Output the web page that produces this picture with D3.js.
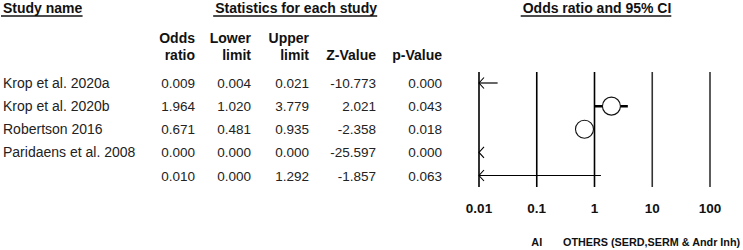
<!DOCTYPE html>
<html>
<head>
<meta charset="utf-8">
<script src="https://cdn.jsdelivr.net/npm/d3@7"></script>
<style>
  body { margin: 0; background: #fff; }
  svg { display: block; font-family: "Liberation Sans", Arial, sans-serif; }
</style>
</head>
<body>
<div id="chart"></div>
<script>
// study rows
const studies = ["Krop et al. 2020a", "Krop et al. 2020b", "Robertson 2016", "Paridaens et al. 2008", ""];
const oddsRatio = [0.009, 1.964, 0.671, 0.0, 0.010];
const lowerLimit = [0.004, 1.020, 0.481, 0.0, 0.0];
const upperLimit = [0.021, 3.779, 0.935, 0.0, 1.292];
const zValue = [-10.773, 2.021, -2.358, -25.597, -1.857];
const pValue = [0.000, 0.043, 0.018, 0.000, 0.063];
const isSummary = [false, false, false, false, true];
const ticks = [0.01, 0.1, 1, 10, 100];
const tickLabels = ["0.01", "0.1", "1", "10", "100"];

const W = 743, H = 250;
const svg = d3.select("#chart").append("svg").attr("width", W).attr("height", H);

const x = d3.scaleLog().domain([0.01, 100]).range([479, 710]);
const y = d3.scalePoint().domain(d3.range(studies.length)).range([83, 175.5]);

// ==== HEADERS ====
function header(txt, xpos, anchor, y0) {
  const t = svg.append("text")
    .attr("x", xpos).attr("y", y0)
    .attr("text-anchor", anchor)
    .attr("font-weight", "bold")
    .attr("font-size", "14px")
    .attr("fill", "#111")
    .text(txt);
  const b = t.node().getBBox();
  svg.append("line")
    .attr("x1", b.x - 2).attr("x2", b.x + b.width)
    .attr("y1", y0 + 3.5).attr("y2", y0 + 3.5)
    .attr("stroke", "#111").attr("stroke-width", 1.3);
}
header("Study name", 3, "start", 12.5);
header("Statistics for each study", 377, "end", 12.5);
header("Odds ratio and 95% CI", 597, "middle", 12.5);

const fmt = d3.format(".3f");
const cols = [
  { top: "Odds", bot: "ratio", x: 195, vals: oddsRatio },
  { top: "Lower", bot: "limit", x: 251, vals: lowerLimit },
  { top: "Upper", bot: "limit", x: 309, vals: upperLimit },
  { top: "", bot: "Z-Value", x: 376, vals: zValue },
  { top: "", bot: "p-Value", x: 442, vals: pValue }
];

cols.forEach((c) => {
  svg.append("text").attr("x", c.x).attr("y", 43).attr("text-anchor", "end")
    .attr("font-weight", "bold").attr("font-size", "14px").attr("fill", "#111").text(c.top);
  svg.append("text").attr("x", c.x).attr("y", 60).attr("text-anchor", "end")
    .attr("font-weight", "bold").attr("font-size", "14px").attr("fill", "#111").text(c.bot);
  svg.selectAll(null).data(c.vals).enter().append("text")
    .attr("x", c.x)
    .attr("y", (d, i) => y(i) + 5)
    .attr("text-anchor", "end")
    .attr("font-size", "13.5px")
    .attr("fill", "#222")
    .text((d) => fmt(d).replace("−", "-"));
});

svg.selectAll(".study").data(studies).enter().append("text")
  .attr("x", 3)
  .attr("y", (d, i) => y(i) + 5)
  .attr("font-size", "14px")
  .attr("fill", "#222")
  .text((d) => d);

// ==== FOREST PLOT ====
svg.selectAll(".grid").data(ticks).enter().append("line")
  .attr("x1", (d) => x(d)).attr("x2", (d) => x(d))
  .attr("y1", 72).attr("y2", 187)
  .attr("stroke", (d) => (d >= 10 ? "#333" : "#000"))
  .attr("stroke-width", 1.6);

svg.selectAll(".tick").data(ticks).enter().append("text")
  .attr("x", (d) => x(d))
  .attr("y", 213)
  .attr("text-anchor", "middle")
  .attr("font-weight", "bold")
  .attr("font-size", "13.5px")
  .attr("fill", "#111")
  .text((d, i) => tickLabels[i]);

const [xmin, xmax] = x.domain();
const clamp = (v) => Math.max(xmin, Math.min(xmax, v));

studies.forEach((s, i) => {
  const lo = lowerLimit[i], hi = upperLimit[i], or = oddsRatio[i];
  const cy = y(i);
  const x1 = x(clamp(lo));
  const x2 = x(clamp(hi));
  const thick = !isSummary[i] && lo >= xmin;
  if (x2 > x1) {
    svg.append("line")
      .attr("x1", x1).attr("x2", x2).attr("y1", cy).attr("y2", cy)
      .attr("stroke", "#000").attr("stroke-width", thick ? 2.5 : 1.2);
  }
  if (lo < xmin) {
    // arrow to the left
    svg.append("path")
      .attr("d", `M${x(xmin) + 5},${cy - 5.5} L${x(xmin)},${cy} L${x(xmin) + 5},${cy + 5.5}`)
      .attr("fill", "none").attr("stroke", "#000").attr("stroke-width", 1.1);
  }
  if (!isSummary[i] && or >= xmin) {
    svg.append("circle")
      .attr("cx", x(or)).attr("cy", cy).attr("r", 9)
      .attr("fill", "#fff").attr("stroke", "#111").attr("stroke-width", 1.1);
  }
});

// ==== FOOTER LABELS ====
svg.append("text").attr("x", x(0.1)).attr("y", 245.5).attr("text-anchor", "middle")
  .attr("font-weight", "bold").attr("font-size", "10.8px").attr("fill", "#111").text("AI");
svg.append("text").attr("x", 563).attr("y", 245.5)
  .attr("font-weight", "bold").attr("font-size", "10.8px").attr("fill", "#111")
  .text("OTHERS (SERD,SERM & Andr Inh)");
</script>
</body>
</html>
